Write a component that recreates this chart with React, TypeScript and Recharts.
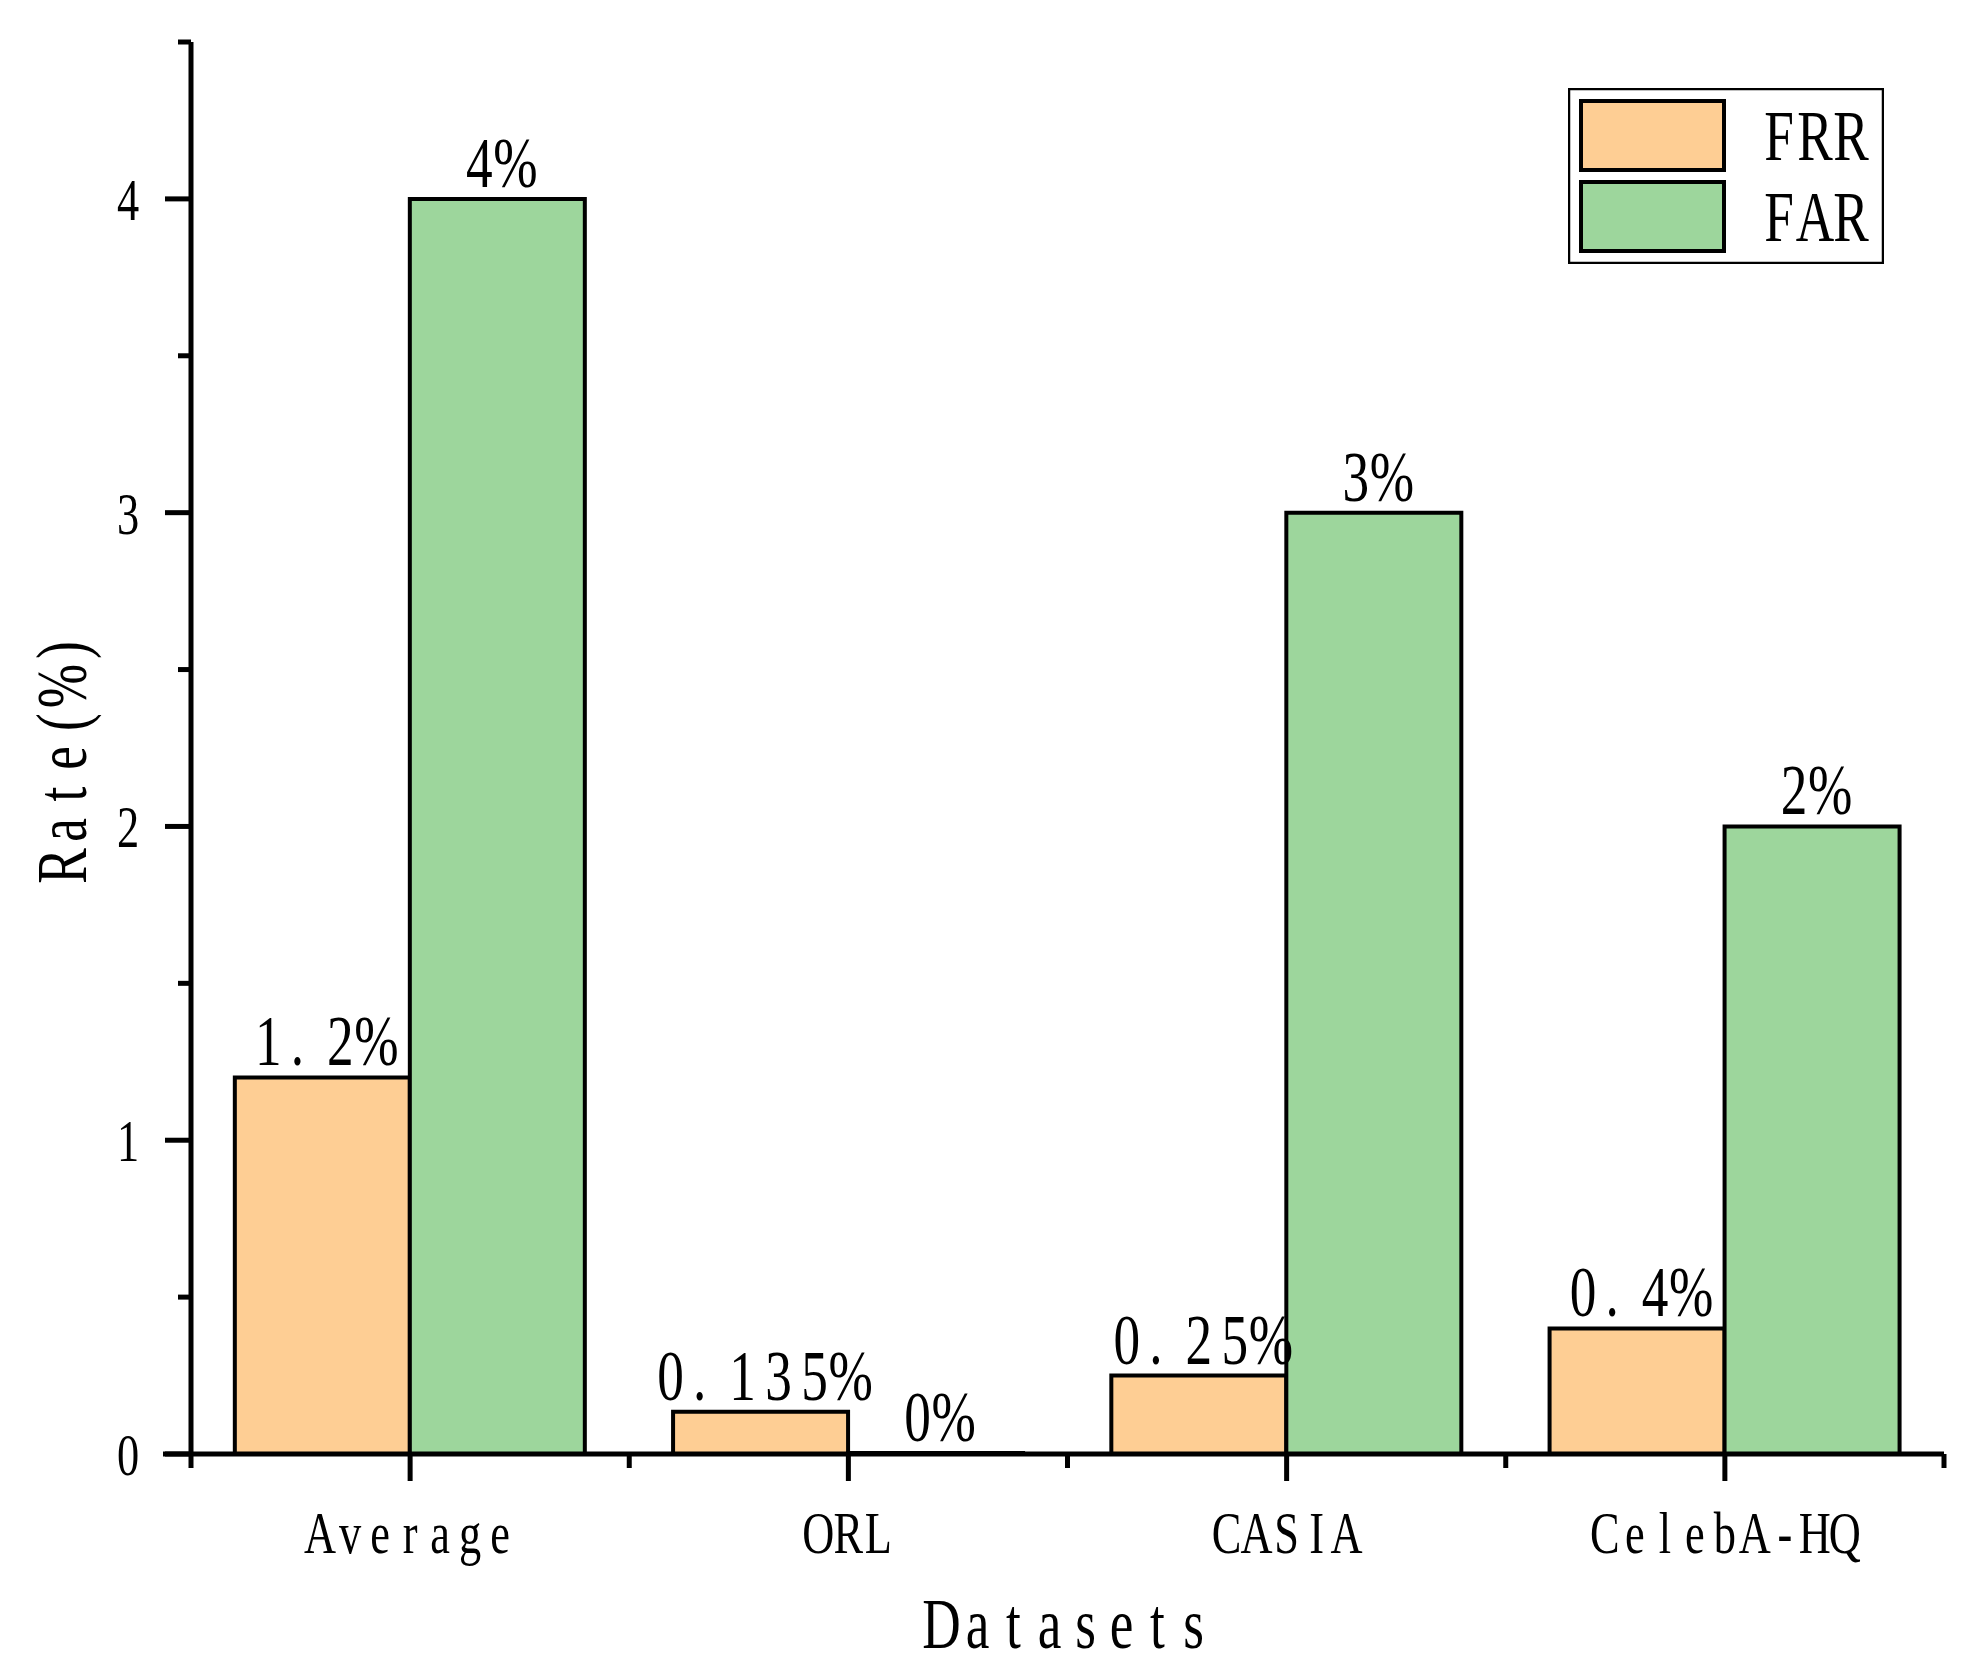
import { BarChart, Bar, XAxis, YAxis, Legend, LabelList, Label } from "recharts";

const categories = ["Average", "ORL", "CASIA", "CelebA-HQ"];
const seriesNames = ["FRR", "FAR"];
const frrValues = [1.2, 0.135, 0.25, 0.4];
const farValues = [4, 0, 3, 2];
const yTicks = [0, 0.5, 1, 1.5, 2, 2.5, 3, 3.5, 4, 4.5];

const FRR_COLOR = "#FECE94";
const FAR_COLOR = "#9DD69C";
const FONT = "'Liberation Serif', 'Times New Roman', serif";

const W = 1968;
const H = 1677;
const M = { top: 42, right: 24, bottom: 0, left: 0 };
const Y_AXIS_W = 191;
const X_AXIS_H = 223;
const PLOT_W = W - M.right - Y_AXIS_W;

const data = categories.map((name, i) => ({ name, FRR: frrValues[i], FAR: farValues[i] }));

// Times-like advance widths (em) so each glyph can be centred in its cell
const GLYPH_W: Record<string, number> = {
  A: 0.722, C: 0.667, D: 0.722, F: 0.556, H: 0.722, I: 0.333, L: 0.611, O: 0.722,
  Q: 0.722, R: 0.667, S: 0.556, "%": 0.833, "(": 0.333, ")": 0.333, "-": 0.333, ".": 0.25,
  a: 0.444, b: 0.5, e: 0.444, g: 0.5, l: 0.278, r: 0.333, s: 0.389, t: 0.278, v: 0.5,
};

type MonoProps = { x: number; y: number; text: string; size: number; anchor?: "start" | "middle" | "end"; rotate?: boolean };

// one text element, each glyph placed in a half-em cell (like the CJK font of the original)
const SX = 0.74;
const MonoText = ({ x, y, text, size, anchor = "start", rotate = false }: MonoProps) => {
  const cell = size * 0.5;
  const chars = text.split("");
  const total = chars.length * cell;
  const start = anchor === "middle" ? x - total / 2 : anchor === "end" ? x - total : x;
  const xs = chars.map((c, i) => {
    if (c === ".") return (start + (i + 0.12) * cell) / SX;
    const w = (GLYPH_W[c] ?? 0.5) * size;
    return (start + (i + 0.5) * cell) / SX - w / 2;
  });
  return (
    <g transform={rotate ? `rotate(-90, ${x}, ${y})` : undefined}>
      <text
        x={xs.map((v) => v.toFixed(2)).join(" ")}
        y={0}
        transform={`translate(0, ${y}) scale(${SX}, 1)`}
        fontSize={size}
        fontFamily={FONT}
        fill="#000"
      >
        {text}
      </text>
    </g>
  );
};

const XTick = (props: any) => {
  const { x, y, payload, index } = props;
  const band = PLOT_W / categories.length;
  const left = x - band / 2;
  return (
    <g>
      <line x1={x} x2={x} y1={y} y2={y + 27} stroke="#000" strokeWidth={5} />
      <line x1={left} x2={left} y1={y} y2={y + 14} stroke="#000" strokeWidth={5} />
      {index === categories.length - 1 && (
        <line x1={x + band / 2} x2={x + band / 2} y1={y} y2={y + 14} stroke="#000" strokeWidth={5} />
      )}
      {index === 0 && <line x1={left - 28} x2={left} y1={y} y2={y} stroke="#000" strokeWidth={5} />}
      <MonoText x={x} y={y + 99} text={String(payload.value)} size={60} anchor="middle" />
    </g>
  );
};

const YTick = (props: any) => {
  const { x, y, payload } = props;
  const major = Number.isInteger(payload.value);
  return (
    <g>
      <line x1={x - (major ? 26 : 13)} x2={x} y1={y} y2={y} stroke="#000" strokeWidth={5} />
      {major && <MonoText x={x - 48} y={y + 21} text={String(payload.value)} size={60} anchor="end" />}
    </g>
  );
};

const BarLabel = (props: any) => {
  const { x, y, width, value } = props;
  return <MonoText x={x + width / 2} y={y - 12} text={`${value}%`} size={72} anchor="middle" />;
};

const LegendBox = (props: any) => {
  const items = [...(props.payload || [])].sort(
    (a: any, b: any) => seriesNames.indexOf(a.value) - seriesNames.indexOf(b.value)
  );
  return (
    <svg width={316} height={176}>
      <rect x={1} y={1} width={314} height={174} fill="#fff" stroke="#000" strokeWidth={2.5} />
      {items.map((e: any, i: number) => (
        <g key={e.value}>
          <rect x={13} y={13 + i * 81} width={143} height={69} fill={e.color} stroke="#000" strokeWidth={4} />
          <MonoText x={193} y={72 + i * 81} text={String(e.value)} size={72} />
        </g>
      ))}
    </svg>
  );
};

export default function App() {
  return (
    <div style={{ position: "absolute", left: 0, top: 0, background: "#fff" }}>
      <BarChart width={W} height={H} data={data} margin={M} barCategoryGap="10%" barGap={0}>
        <XAxis
          dataKey="name"
          height={X_AXIS_H}
          axisLine={{ stroke: "#000", strokeWidth: 5 }}
          tickLine={false}
          tickSize={0}
          tickMargin={0}
          interval={0}
          tick={<XTick />}
        >
          <Label
            content={(p: any) => {
              const vb = p.viewBox;
              return <MonoText x={vb.x + vb.width / 2} y={vb.y + 194} text="Datasets" size={72} anchor="middle" />;
            }}
          />
        </XAxis>
        <YAxis
          type="number"
          width={Y_AXIS_W}
          domain={[0, 4.5]}
          ticks={yTicks}
          interval={0}
          axisLine={{ stroke: "#000", strokeWidth: 5 }}
          tickLine={false}
          tickSize={0}
          tickMargin={0}
          tick={<YTick />}
        >
          <Label
            content={(p: any) => {
              const vb = p.viewBox;
              return <MonoText x={86} y={vb.y + vb.height / 2 + 10} text="Rate(%)" size={72} anchor="middle" rotate />;
            }}
          />
        </YAxis>
        <Legend
          layout="vertical"
          align="center"
          verticalAlign="middle"
          content={<LegendBox />}
          wrapperStyle={{ left: 1568, top: 88, width: 316, height: 176 }}
        />
        <Bar dataKey="FRR" name="FRR" fill={FRR_COLOR} stroke="#000" strokeWidth={4} minPointSize={1} isAnimationActive={false}>
          <LabelList dataKey="FRR" content={<BarLabel />} />
        </Bar>
        <Bar dataKey="FAR" name="FAR" fill={FAR_COLOR} stroke="#000" strokeWidth={4} minPointSize={1} isAnimationActive={false}>
          <LabelList dataKey="FAR" content={<BarLabel />} />
        </Bar>
      </BarChart>
    </div>
  );
}
